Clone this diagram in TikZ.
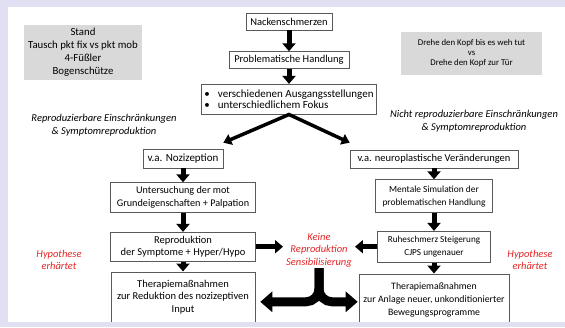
\documentclass[tikz,border=0pt]{standalone}
\usepackage{fontspec}
\setmainfont{Carlito}
\usetikzlibrary{arrows.meta,positioning}
\definecolor{slide}{RGB}{224,224,242}
\definecolor{boxgray}{RGB}{217,217,217}
\definecolor{hypred}{RGB}{228,38,38}
\tikzset{
    fs/.style={font=\fontsize{#1}{12.5}\selectfont},
    box/.style={draw=black!65, line width=0.6pt, fill=white, align=center, inner sep=1pt, fs=9.5},
    graybox/.style={fill=boxgray, align=center, inner sep=1pt, fs=9.5},
    note/.style={align=center, inner sep=1pt, font=\fontsize{10.5}{12.5}\selectfont\itshape},
    rednote/.style={note, text=hypred},
    arr/.style={line width=5pt, -{Triangle[width=13pt,length=8pt]}},
    diag/.style={line width=3.5pt, line join=miter, {Triangle[width=11pt,length=8pt]}-{Triangle[width=11pt,length=8pt]}},
    fork/.style={line width=9pt, rounded corners=13pt, -{Triangle[width=20pt,length=12pt]}},
}
\begin{document}
\begin{tikzpicture}[x=1pt, y=-1pt]
        \useasboundingbox[fill=slide] (0,0) rectangle (565,327);
        \fill[white] (8,7) rectangle (565,322);

        \node[graybox, font=\fontsize{10.8}{13}\selectfont, minimum width=118pt, minimum height=55pt] (stand) at (83,52.5)
            {Stand\\Tausch pkt fix vs pkt mob\\4-Füßler\\Bogenschütze};
        \node[graybox, font=\fontsize{8.8}{10}\selectfont, minimum width=141pt, minimum height=43pt] (drehe) at (471.5,53.5)
            {Drehe den Kopf bis es weh tut\\vs\\Drehe den Kopf zur Tür};

        \node[box, fs=10.5, minimum width=86pt, minimum height=17pt] (a) at (289,21.5) {Nackenschmerzen};
        \node[box, fs=10.5, minimum width=120pt, minimum height=17pt, below=21pt of a] (b) {Problematische Handlung};
        \node[box, font=\fontsize{11}{11.5}\selectfont, minimum width=175pt, minimum height=30pt, below=15pt of b, align=left] (c)
            {\textbullet\hspace{8pt}verschiedenen Ausgangsstellungen\\\textbullet\hspace{8pt}unterschiedlichem Fokus};

        \node[note] (repro) at (104,125) {Reproduzierbare Einschränkungen\\\& Symptomreproduktion};
        \node[note] (nrepro) at (474,121) {Nicht reproduzierbare Einschränkungen\\\& Symptomreproduktion};

        \node[box, fs=11, minimum width=80pt, minimum height=19pt] (d) at (183,158.5) {v.a. Nozizeption};
        \node[box, font=\fontsize{10.2}{13}\selectfont, minimum width=145pt, minimum height=30pt, below=14pt of d] (f)
            {Untersuchung der mot\\Grundeigenschaften + Palpation};
        \node[box, fs=10.5, minimum width=145pt, minimum height=29pt, below=19pt of f] (h)
            {Reproduktion\\der Symptome + Hyper/Hypo};
        \node[box, fs=10.5, minimum width=144pt, minimum height=50pt, below=10pt of h] (j)
            {Therapiemaßnahmen\\zur Reduktion des nozizeptiven\\Input};

        \node[box, fs=10.5, minimum width=168pt, minimum height=18pt] (e) at (434,159) {v.a. neuroplastische Veränderungen};
        \node[box, font=\fontsize{9.4}{13}\selectfont, minimum width=117pt, minimum height=33pt, below=11pt of e] (g)
            {Mentale Simulation der\\problematischen Handlung};
        \node[box, fs=9.2, minimum width=113pt, minimum height=31pt, below=18pt of g] (i)
            {Ruheschmerz Steigerung\\CJPS ungenauer};
        \node[box, font=\fontsize{9.8}{13}\selectfont, minimum width=150pt, minimum height=52pt, below=11pt of i] (k)
            {Therapiemaßnahmen\\zur Anlage neuer, unkonditionierter\\Bewegungsprogramme};

        \node[rednote] (keine) at (319,250) {Keine\\Reproduktion\\Sensibilisierung};
        \node[rednote] (hypl) at (59,260) {Hypothese\\erhärtet};
        \node[rednote] (hypr) at (530,260) {Hypothese\\erhärtet};

        \draw[arr] (a) -- (a |- b.north);
        \draw[arr] (b) -- (b |- c.north);
        \draw[diag] ([yshift=6pt]d.north east) -- (c.south) -- ([yshift=7pt]e.north west);
        \draw[arr] (d) -- (f);
        \draw[arr] (f) -- (h);
        \draw[arr] (h) -- (j);
        \draw[arr] (e) -- (g);
        \draw[arr] (g) -- (i);
        \draw[arr] (i) -- (k);
        \draw[arr, shorten >=2pt] (h.east) -- (h.east -| keine.west);
        \draw[arr, shorten >=2pt] (i.west) -- (i.west -| keine.east);
        \draw[fork, shorten >=5pt] (keine.south) |- ([yshift=-5pt]j.east);
        \draw[fork, shorten >=1pt] (keine.south) |- ([yshift=-2pt]k.west);

        \fill[slide] (0,322) rectangle (565,327);
    \end{tikzpicture}
\end{document}
